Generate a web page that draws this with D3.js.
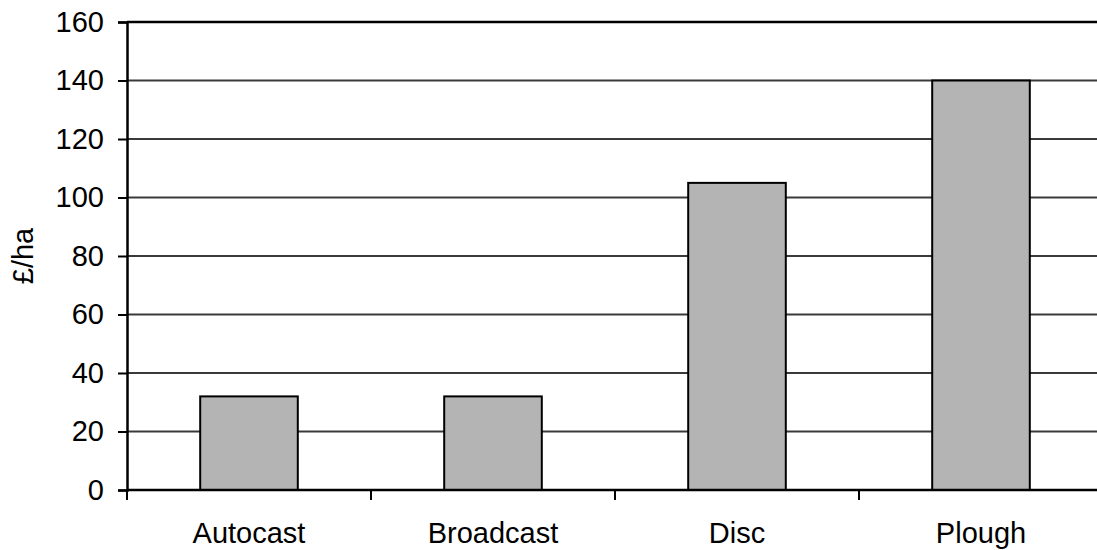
<!DOCTYPE html>
<html>
<head>
<meta charset="utf-8">
<script src="https://cdn.jsdelivr.net/npm/d3@7"></script>
<style>
  html, body { margin: 0; padding: 0; background: #fff; }
  svg { display: block; }
  text { font-family: "Liberation Sans", Arial, sans-serif; fill: #000; }
</style>
</head>
<body>
<svg id="chart" width="1097" height="550"></svg>
<script>
// Establishment cost per hectare by method
const categories = ["Autocast", "Broadcast", "Disc", "Plough"];
const values = [32, 32, 105, 140];
const yTicks = [0, 20, 40, 60, 80, 100, 120, 140, 160];
const yLabel = "£/ha";

const fontSize = 29;
const svg = d3.select("#chart");
const plotLeft = 127, plotTop = 22, plotBottom = 490, plotRight = 1103;

const x = d3.scaleBand().domain(categories).range([plotLeft, plotRight]).paddingInner(0).paddingOuter(0);
const y = d3.scaleLinear().domain([0, 160]).range([plotBottom, plotTop]);
const barW = x.bandwidth() * 0.4;

// Horizontal gridlines
svg.append("g")
  .selectAll("line")
  .data(yTicks.filter(d => d > 0 && d < 160))
  .join("line")
  .attr("x1", plotLeft).attr("x2", plotRight)
  .attr("y1", d => y(d)).attr("y2", d => y(d))
  .attr("stroke", "#3a3a3a").attr("stroke-width", 2);

// Plot area top border
svg.append("line")
  .attr("x1", plotLeft).attr("x2", plotRight)
  .attr("y1", y(160)).attr("y2", y(160))
  .attr("stroke", "#000").attr("stroke-width", 2.5);

// Bars
svg.append("g")
  .selectAll("rect")
  .data(values)
  .join("rect")
  .attr("x", (d, i) => x(categories[i]) + (x.bandwidth() - barW) / 2)
  .attr("width", barW)
  .attr("y", d => y(d))
  .attr("height", d => y(0) - y(d))
  .attr("fill", "#b4b4b4")
  .attr("stroke", "#000")
  .attr("stroke-width", 2);

// Y axis
const yAxis = d3.axisLeft(y).tickValues(yTicks).tickSize(9).tickPadding(14);
const gy = svg.append("g").attr("transform", `translate(${plotLeft},0)`).call(yAxis);
gy.select(".domain").attr("stroke", "#000").attr("stroke-width", 2.5);
gy.selectAll(".tick line").attr("stroke", "#000").attr("stroke-width", 2);
gy.selectAll(".tick text").attr("font-size", fontSize).attr("font-family", "Liberation Sans, Arial, sans-serif").attr("fill", "#000");

// X axis with ticks at category boundaries
svg.append("line")
  .attr("x1", plotLeft).attr("x2", plotRight)
  .attr("y1", plotBottom).attr("y2", plotBottom)
  .attr("stroke", "#000").attr("stroke-width", 2.5);
svg.append("g")
  .selectAll("line")
  .data(categories)
  .join("line")
  .attr("x1", d => x(d)).attr("x2", d => x(d))
  .attr("y1", plotBottom).attr("y2", plotBottom + 10)
  .attr("stroke", "#000").attr("stroke-width", 2);
svg.append("g")
  .selectAll("text")
  .data(categories)
  .join("text")
  .attr("x", d => x(d) + x.bandwidth() / 2)
  .attr("y", 543)
  .attr("text-anchor", "middle")
  .attr("font-size", fontSize)
  .text(d => d);

// Y axis title
svg.append("text")
  .attr("transform", `translate(33,${(plotTop + plotBottom) / 2}) rotate(-90)`)
  .attr("text-anchor", "middle")
  .attr("font-size", fontSize)
  .text(yLabel);
</script>
</body>
</html>
